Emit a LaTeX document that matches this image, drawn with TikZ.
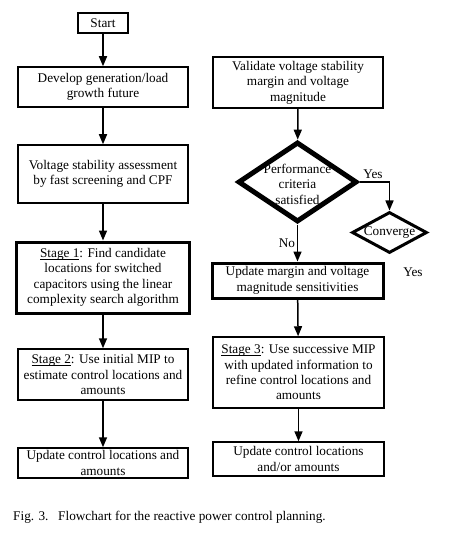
\documentclass[tikz,border=0pt]{standalone}
\usepackage{fontspec}
\setmainfont{Liberation Serif}
\usetikzlibrary{shapes.geometric,arrows.meta}
\newcommand\myul[1]{{\setbox0\hbox{#1}\rlap{\vrule width\wd0 height -1.3pt depth 2.0pt}\box0}}
\begin{document}
\begin{tikzpicture}[x=1bp,y=-1bp,
  every node/.style={font=\fontsize{13.3}{15.5}\selectfont},
  box/.style={draw,line width=1.5bp,align=center,inner sep=0pt,minimum width=170bp},
  thickbox/.style={box,line width=3bp},
  dia/.style={draw,diamond,inner sep=0pt,aspect=1.5},
  arr/.style={line width=1.5bp,-{Triangle[length=10bp,width=8bp]}},
  lab/.style={inner sep=0pt}]
\useasboundingbox (0,0) rectangle (459,537);
% left column
\node[box,minimum width=50bp,minimum height=20bp] (start) at (103,23) {Start};
\node[box,minimum height=40bp] (dev) at (103,87) {Develop generation/load\\growth future};
\node[box,minimum height=58bp] (vsa) at (103,174) {Voltage stability assessment\\by fast screening and CPF};
\node[thickbox,minimum width=172bp,minimum height=71bp] (st1) at (103,277.5) {\myul{Stage 1}: Find candidate\\locations for switched\\capacitors using the linear\\complexity search algorithm};
\node[box,minimum height=51bp] (st2) at (103,374.5) {\myul{Stage 2}: Use initial MIP to\\estimate control locations and\\amounts};
\node[box,minimum height=30bp] (updl) at (103,463) {Update control locations and\\amounts};
% right column
\node[box,minimum height=51bp] (val) at (298,82.5) {Validate voltage stability\\margin and voltage\\magnitude};
\node[dia,line width=5bp,minimum width=119bp,minimum height=80bp] (perf) at (297.5,182) {};
\node[lab,align=center] (perft) at (297.5,184) {Performance\\criteria\\satisfied};
\node[dia,line width=3bp,minimum width=75bp,minimum height=41bp] (conv) at (389.5,232.5) {};
\node[lab] (convt) at (389.5,232.5) {Converge};
\node[thickbox,minimum width=171bp,minimum height=35bp] (updm) at (297.5,280.5) {Update margin and voltage\\magnitude sensitivities};
\node[box,minimum width=171bp,minimum height=71bp] (st3) at (298.5,372.5) {\myul{Stage 3}: Use successive MIP\\with updated information to\\refine control locations and\\amounts};
\node[box,minimum width=171bp,minimum height=34bp] (updr) at (298.5,459) {Update control locations\\and/or amounts};
% labels
\node[lab] (yes1) at (373,174) {Yes};
\node[lab] (yes2) at (413,272) {Yes};
\node[lab] (no) at (287,243) {No};
% connectors
\draw[arr] (start) -- (dev);
\draw[arr] (dev) -- (vsa);
\draw[arr] (vsa) -- (st1);
\draw[arr] (st1) -- (st2);
\draw[arr] (st2) -- (updl);
\draw[arr] (val) -- (perf);
\draw[arr] (perf.south) -- (updm);
\draw[arr] (perf.east) -| (conv.north);
\draw[arr] (updm) -- (st3);
\draw[arr] (st3) -- (updr);
% caption
\node[lab,anchor=base west] (cap1) at (13,520) {Fig. 3.};
\node[lab,anchor=base west] (cap2) at (58,520) {Flowchart for the reactive power control planning.};
\end{tikzpicture}
\end{document}
